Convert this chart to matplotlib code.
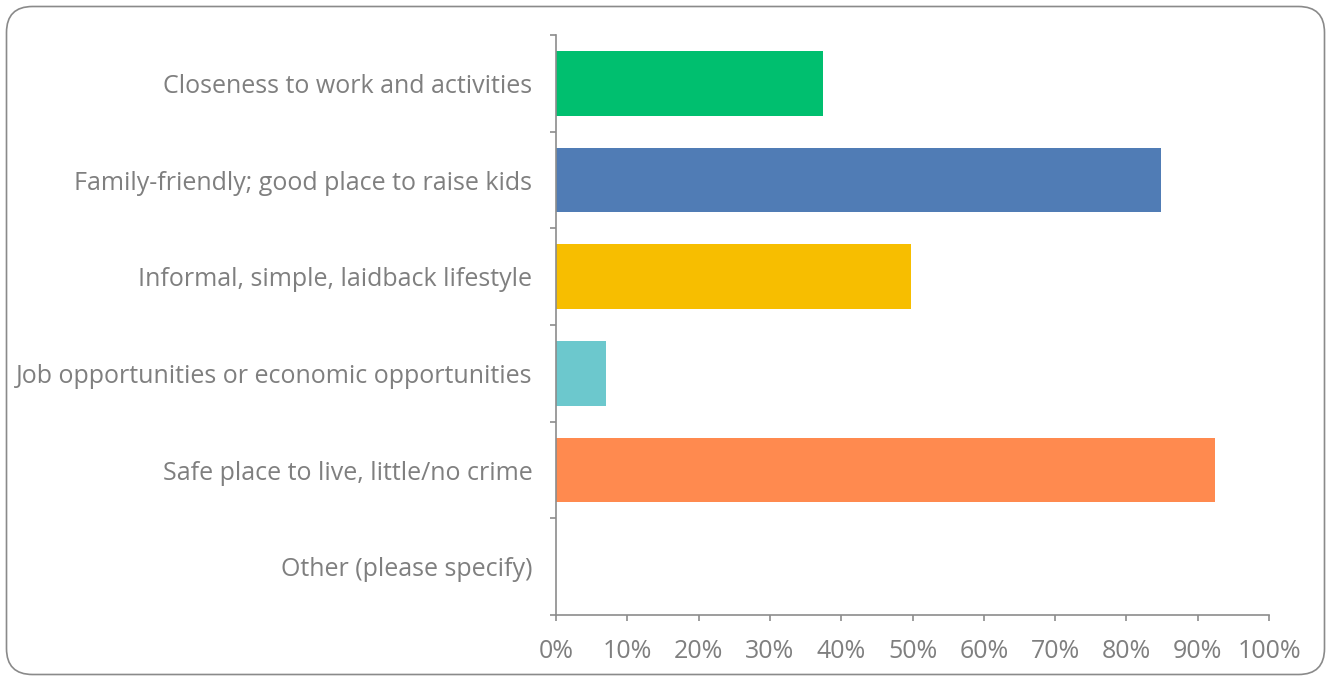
import matplotlib.pyplot as plt
from matplotlib.patches import FancyBboxPatch
from matplotlib.ticker import PercentFormatter

# Survey answers, top to bottom
categories = [
    "Closeness to work and activities",
    "Family-friendly; good place to raise kids",
    "Informal, simple, laidback lifestyle",
    "Job opportunities or economic opportunities",
    "Safe place to live, little/no crime",
    "Other (please specify)",
]
shares = [37.4, 84.9, 49.8, 7.0, 92.4, 0.0]
bar_colors = ["#00BF6F", "#507CB5", "#F7BE00", "#6CC8CD", "#FF8A4F", "#A5A5A5"]

text_gray = "#7F7F7F"
axis_gray = "#8C8C8C"

plt.rcParams['font.family'] = ['Open Sans', 'DejaVu Sans']

W, H = 1331, 676
fig = plt.figure(figsize=(W / 100, H / 100), dpi=100)

# background layer in pixel units for the rounded frame
bg = fig.add_axes([0, 0, 1, 1], zorder=-1)
bg.set_xlim(0, W)
bg.set_ylim(H, 0)
bg.axis('off')
bg.add_patch(FancyBboxPatch((6.5, 6.5), W - 13, H - 8,
                            boxstyle="round,pad=0,rounding_size=26",
                            facecolor="white", edgecolor="#8A8A8A", linewidth=1.2))

ax = fig.add_axes([556 / W, 1 - 615 / H, 713 / W, 580 / H])
ax.set_facecolor("none")

ypos = list(range(len(categories)))
ax.barh(ypos, shares, height=0.67, color=bar_colors)

ax.set_ylim(len(categories) - 0.5, -0.5)
ax.set_xlim(0, 100)
ax.set_xticks(range(0, 101, 10))
ax.xaxis.set_major_formatter(PercentFormatter(decimals=0))

ax.set_yticks(ypos)
ax.set_yticklabels(categories)
# category borders carry the tick marks
ax.set_yticks([i - 0.5 for i in range(len(categories) + 1)], minor=True)
ax.tick_params(axis='y', which='major', length=0, pad=17, labelsize=18, labelcolor=text_gray)
ax.tick_params(axis='y', which='minor', length=4.5, width=1.2, color=axis_gray)
ax.tick_params(axis='x', length=4.5, width=1.2, color=axis_gray, pad=12.5,
               labelsize=18, labelcolor=text_gray)

for side in ("top", "right"):
    ax.spines[side].set_visible(False)
for side in ("left", "bottom"):
    ax.spines[side].set_color(axis_gray)
    ax.spines[side].set_linewidth(1.2)

fig.savefig("out.png", dpi=100)
